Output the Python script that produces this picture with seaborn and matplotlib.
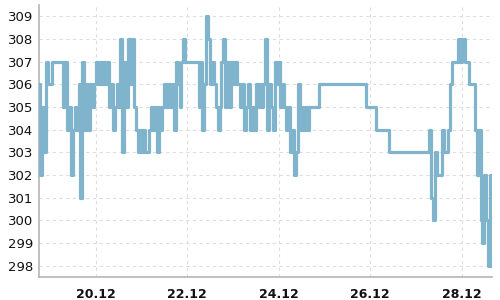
import matplotlib
matplotlib.use("Agg")
import matplotlib.pyplot as plt
import pandas as pd
import seaborn as sns

# hourly readings, Dec 18 18:00 .. Dec 28 16:00
day18 = [306, 302, 305, 303, 307, 306]
day19 = [306, 307, 307, 307, 307, 307, 307, 305, 307, 304, 305, 302,
         304, 305, 304, 306, 301, 307, 304, 306, 304, 306, 305, 306]
day20 = [307, 306, 307, 306, 307, 306, 307, 305, 306, 304, 305, 306,
         305, 308, 303, 307, 305, 308, 306, 308, 305, 304, 303, 304]
day21 = [303, 304, 303, 303, 304, 305, 304, 305, 303, 305, 304, 305,
         306, 305, 306, 305, 306, 304, 307, 306, 305, 307, 308, 307]
day22 = [307, 307, 307, 307, 307, 307, 305, 307, 304, 306, 309, 308,
         306, 307, 306, 305, 304, 305, 307, 308, 305, 307, 305, 307]
day23 = [306, 307, 306, 306, 305, 306, 304, 305, 306, 304, 305, 304,
         306, 305, 306, 305, 306, 308, 304, 306, 305, 304, 307, 306]
day24 = [307, 305, 306, 305, 304, 305, 303, 304, 302, 303, 306, 304,
         305, 304, 305, 304, 305, 305, 305, 305, 305, 306, 306, 306]
day25 = [306, 306, 306, 306, 306, 306, 306, 306, 306, 306, 306, 306,
         306, 306, 306, 306, 306, 306, 306, 306, 306, 306, 305, 305]
day26 = [305, 305, 305, 304, 304, 304, 304, 304, 304, 304, 303, 303,
         303, 303, 303, 303, 303, 303, 303, 303, 303, 303, 303, 303]
day27 = [303, 303, 303, 303, 303, 303, 303, 304, 301, 300, 303, 302,
         302, 302, 304, 303, 303, 304, 306, 307, 307, 307, 308, 307]
day28 = [308, 308, 307, 307, 306, 306, 306, 304, 302, 304, 300, 299,
         302, 300, 298, 302, 298]

values = day18 + day19 + day20 + day21 + day22 + day23 + day24 + day25 + day26 + day27 + day28
start = "2023-12-18 18:00"

tick_dates = ["2023-12-20", "2023-12-22", "2023-12-24", "2023-12-26", "2023-12-28"]
tick_labels = ["20.12", "22.12", "24.12", "26.12", "28.12"]
y_ticks = [298, 299, 300, 301, 302, 303, 304, 305, 306, 307, 308, 309]

times = pd.date_range(start, periods=len(values), freq="h")
df = pd.DataFrame({"time": times, "value": values})

sns.set_theme(style="white")
plt.rcParams["font.family"] = ["DejaVu Sans"]

fig = plt.figure(figsize=(5, 3), dpi=100)
ax = fig.add_axes([0.077, 0.077, 0.907, 0.906])

sns.lineplot(data=df, x="time", y="value", ax=ax, color="#7fb4cc",
             linewidth=2.3, drawstyle="steps-post", estimator=None, zorder=3)

ax.set_xlim(times[0], times[-1])
ax.set_ylim(297.5, 309.5)
ax.set_xticks(pd.to_datetime(tick_dates))
ax.set_xticklabels(tick_labels, fontsize=9, fontweight="bold", color="#111111")
ax.set_yticks(y_ticks)
ax.set_yticklabels([str(v) for v in y_ticks], fontsize=9.5, color="#111111")
ax.set_xlabel("")
ax.set_ylabel("")

ax.grid(True, color="#dddddd", linestyle=(0, (3, 3)), linewidth=0.8)
ax.set_axisbelow(True)
for s in ["top", "right"]:
    ax.spines[s].set_visible(False)
for s in ["left", "bottom"]:
    ax.spines[s].set_color("#b5b5b5")
    ax.spines[s].set_linewidth(1.2)
ax.tick_params(axis="y", length=0, pad=4)
ax.tick_params(axis="x", length=3, width=1, color="#b5b5b5", pad=5, direction="out")

fig.savefig("out.png", dpi=100)
